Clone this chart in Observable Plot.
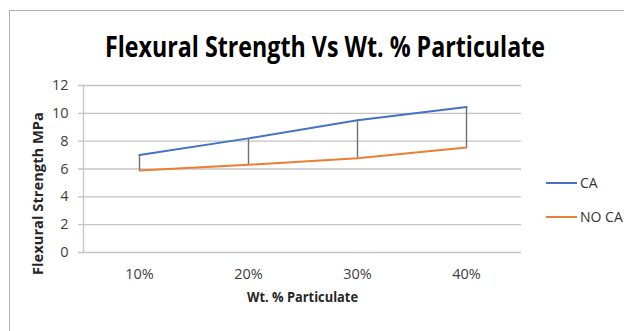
<!DOCTYPE html>
<html>
<head>
<meta charset="utf-8">
<script src="https://cdn.jsdelivr.net/npm/d3@7"></script>
<script src="https://cdn.jsdelivr.net/npm/@observablehq/plot@0.6"></script>
<style>
  body { margin: 0; background: #fff; }
  #wrap { position: relative; width: 624px; height: 331px; overflow: hidden; background: #fff; font-family: "Open Sans", sans-serif; }
  #border { position: absolute; left: 9px; top: 10px; width: 900px; height: 600px; border-left: 1.5px solid #b0b0b0; border-top: 1.5px solid #b0b0b0; }
  #title { position: relative; height: 70px; }
  #title span { position: absolute; left: 105px; top: 31px; font-size: 29px; line-height: 1; font-weight: 700; color: #000; white-space: nowrap; transform-origin: 0 0; }
  #chart { position: relative; }
  .leg { position: absolute; left: 546px; width: 31px; height: 2px; }
  .legt { position: absolute; left: 580px; font-size: 14px; line-height: 1; color: #333; white-space: nowrap; }
</style>
</head>
<body>
<div id="wrap">
  <div id="border"></div>
  <div id="title"><span id="titletext">Flexural Strength Vs Wt. % Particulate</span></div>
  <div id="chart"></div>
</div>
<script>
const categories = ["10%", "20%", "30%", "40%"];
const caValues = [7.0, 8.2, 9.5, 10.45];
const noCaValues = [5.9, 6.3, 6.78, 7.55];
const yTicks = [0, 2, 4, 6, 8, 10, 12];
const seriesNames = ["CA", "NO CA"];
const seriesColors = ["#4472C4", "#ED7D31"];
const xLabel = "Wt. % Particulate";
const yLabel = "Flexural Strength MPa";

const rows = [];
categories.forEach((c, i) => {
  rows.push({cat: c, series: seriesNames[0], value: caValues[i]});
  rows.push({cat: c, series: seriesNames[1], value: noCaValues[i]});
});
const pairs = categories.map((c, i) => ({cat: c, hi: caValues[i], lo: noCaValues[i]}));

const chart = Plot.plot({
  width: 624,
  height: 261,
  marginTop: 15,
  marginBottom: 79,
  marginLeft: 83,
  marginRight: 103,
  style: {fontFamily: "Open Sans, sans-serif", fontSize: "14px", color: "#404040", background: "transparent", overflow: "visible"},
  x: {type: "point", domain: categories, padding: 0.5},
  y: {domain: [0, 12]},
  color: {domain: seriesNames, range: seriesColors},
  marks: [
    Plot.ruleY(yTicks, {stroke: "#c4c4c4", strokeWidth: 1.3, insetLeft: -5}),
    Plot.frame({anchor: "left", stroke: "#c4c4c4", strokeWidth: 1.3}),
    Plot.axisY(yTicks, {tickSize: 0, tickPadding: 15, fontSize: 14.5, fill: "#404040", label: null}),
    Plot.axisX({tickSize: 0, tickPadding: 16, fontSize: 14.5, fill: "#404040", label: null}),
    Plot.ruleX(pairs, {x: "cat", y1: "lo", y2: "hi", stroke: "#707070", strokeWidth: 1.4}),
    Plot.line(rows, {x: "cat", y: "value", z: "series", stroke: "series", strokeWidth: 2}),
    Plot.text([xLabel], {frameAnchor: "bottom", dy: 49, fontWeight: "bold", fontSize: 14, fill: "#262626"}),
    Plot.text([yLabel], {frameAnchor: "left", textAnchor: "middle", dx: -45, dy: 24.5, rotate: -90, fontWeight: "bold", fontSize: 14, fill: "#262626"})
  ]
});
document.getElementById("chart").appendChild(chart);

// legend
const wrap = document.getElementById("wrap");
const legY = [183, 217];
seriesNames.forEach((name, i) => {
  const ln = document.createElement("div");
  ln.className = "leg";
  ln.style.top = (legY[i] - 1) + "px";
  ln.style.background = seriesColors[i];
  wrap.appendChild(ln);
  const t = document.createElement("div");
  t.className = "legt";
  t.style.top = (legY[i] - 7) + "px";
  t.textContent = name;
  wrap.appendChild(t);
});

// fit text widths to reference (Calibri-like narrow look)
function fit() {
  const ts = document.getElementById("titletext");
  ts.style.transform = "none";
  const w = ts.getBoundingClientRect().width;
  ts.style.transform = `scaleX(${440 / w})`;
  chart.querySelectorAll("text").forEach(t => {
    if (t.textContent === xLabel) { t.setAttribute("textLength", 111); t.setAttribute("lengthAdjust", "spacingAndGlyphs"); }
    if (t.textContent === yLabel) { t.setAttribute("textLength", 163); t.setAttribute("lengthAdjust", "spacingAndGlyphs"); }
  });
}
fit();
if (document.fonts && document.fonts.ready) document.fonts.ready.then(fit);
</script>
</body>
</html>
